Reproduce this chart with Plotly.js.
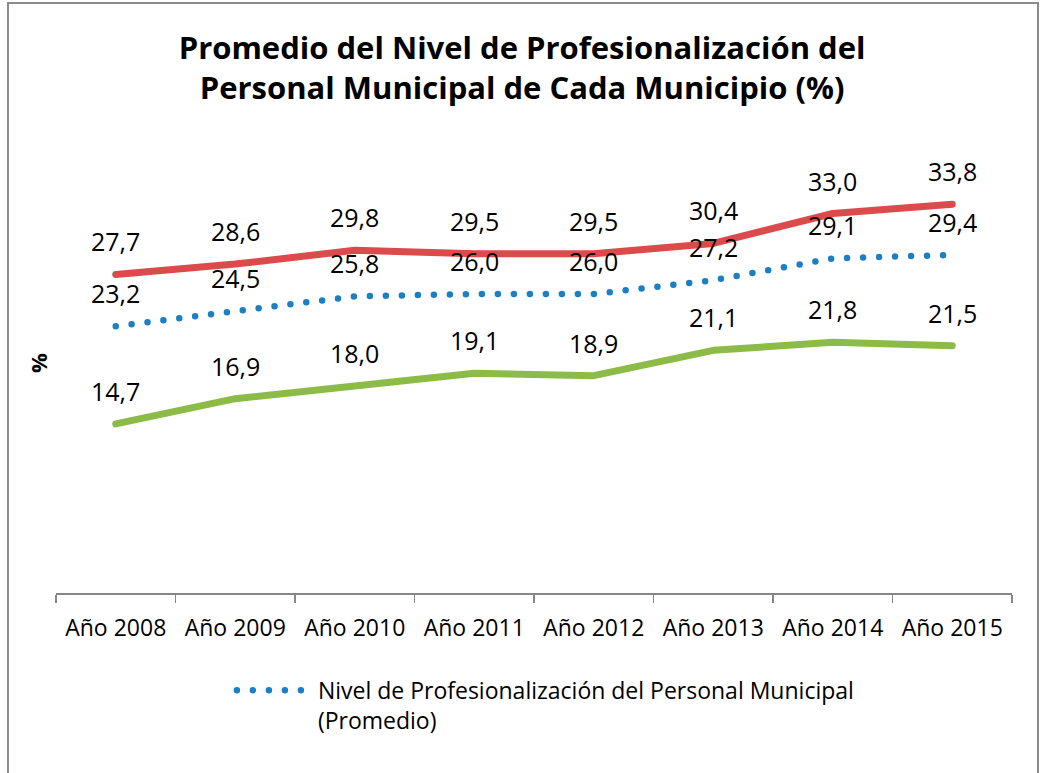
<!DOCTYPE html>
<html>
<head>
<meta charset="utf-8">
<script src="https://cdn.plot.ly/plotly-3.0.1.min.js"></script>
<style>
  html, body { margin: 0; padding: 0; background: #fff; }
  #chart { width: 1040px; height: 773px; }
  .scatterlayer .js-line, .legendlines path { stroke-linecap: round; stroke-linejoin: round; }
</style>
</head>
<body>
<div id="chart"></div>
<script>
const categories = ["Año 2008", "Año 2009", "Año 2010", "Año 2011", "Año 2012", "Año 2013", "Año 2014", "Año 2015"];
const upperValues = [27.7, 28.6, 29.8, 29.5, 29.5, 30.4, 33.0, 33.8];
const averageValues = [23.2, 24.5, 25.8, 26.0, 26.0, 27.2, 29.1, 29.4];
const lowerValues = [14.7, 16.9, 18.0, 19.1, 18.9, 21.1, 21.8, 21.5];
const averageName = "Nivel de Profesionalización del Personal Municipal<br>(Promedio)";
const chartTitle = "Promedio del Nivel de Profesionalización del<br>Personal Municipal de Cada Municipio (%)";
const yAxisLabel = "%";

const FONT = "Open Sans, Liberation Sans, Arial, sans-serif";

const traces = [
  {
    x: categories, y: upperValues, type: "scatter", mode: "lines",
    line: { color: "#dc4b4b", width: 7 }, showlegend: false, hoverinfo: "y"
  },
  {
    x: categories, y: averageValues, type: "scatter", mode: "lines",
    name: averageName,
    line: { color: "#1b7fc3", width: 6.5, dash: "0px,16px" }, showlegend: true, hoverinfo: "y"
  },
  {
    x: categories, y: lowerValues, type: "scatter", mode: "lines",
    line: { color: "#8cbb48", width: 7 }, showlegend: false, hoverinfo: "y"
  }
];

const fmt = v => v.toFixed(1).replace(".", ",");
const labelAnn = vals => vals.map((v, i) => ({
  x: categories[i], y: v, xref: "x", yref: "y", text: fmt(v),
  showarrow: false, yshift: 33, font: { family: FONT, size: 25, color: "#000" }
}));

const annotations = [
  ...labelAnn(upperValues),
  ...labelAnn(averageValues),
  ...labelAnn(lowerValues),
  {
    xref: "paper", yref: "paper", x: -0.0188, y: 0.5, xanchor: "center", yanchor: "middle",
    text: yAxisLabel, textangle: -90, showarrow: false,
    font: { family: FONT, size: 22, color: "#000", weight: "bold" }
  }
];

const layout = {
  width: 1040, height: 773,
  paper_bgcolor: "#fff", plot_bgcolor: "#fff",
  margin: { l: 56, r: 28, t: 133, b: 180 },
  font: { family: FONT, color: "#000" },
  title: {
    text: chartTitle,
    x: 0.502, xanchor: "center", xref: "container",
    y: 1 - 59 / 773, yanchor: "middle", yref: "container",
    font: { family: FONT, size: 31, color: "#000", weight: "bold" }
  },
  xaxis: {
    type: "category", range: [-0.5, 7.5],
    tickson: "boundaries", ticks: "outside", ticklen: 8, tickwidth: 1.5, tickcolor: "#868686",
    showline: true, linecolor: "#868686", linewidth: 1.5,
    showgrid: false, zeroline: false,
    tickfont: { family: FONT, size: 23, color: "#000" },
    ticklabelstandoff: 14, fixedrange: true
  },
  yaxis: {
    range: [0, 40], showgrid: false, zeroline: false, showline: false,
    showticklabels: false, ticks: "", fixedrange: true
  },
  showlegend: true,
  legend: {
    orientation: "h", x: 0.184, xanchor: "left", y: -0.165, yanchor: "top",
    font: { family: FONT, size: 23, color: "#000" },
    valign: "top", itemwidth: 76, bgcolor: "rgba(0,0,0,0)"
  },
  annotations: annotations,
  shapes: [{
    type: "rect", xref: "paper", yref: "paper",
    x0: -0.0502, x1: 1.0272, y0: -0.45, y1: 1.2826,
    line: { color: "#8c8c8c", width: 2 }, fillcolor: "rgba(0,0,0,0)", layer: "below"
  }]
};

Plotly.newPlot("chart", traces, layout, { displayModeBar: false, staticPlot: true });
</script>
</body>
</html>
